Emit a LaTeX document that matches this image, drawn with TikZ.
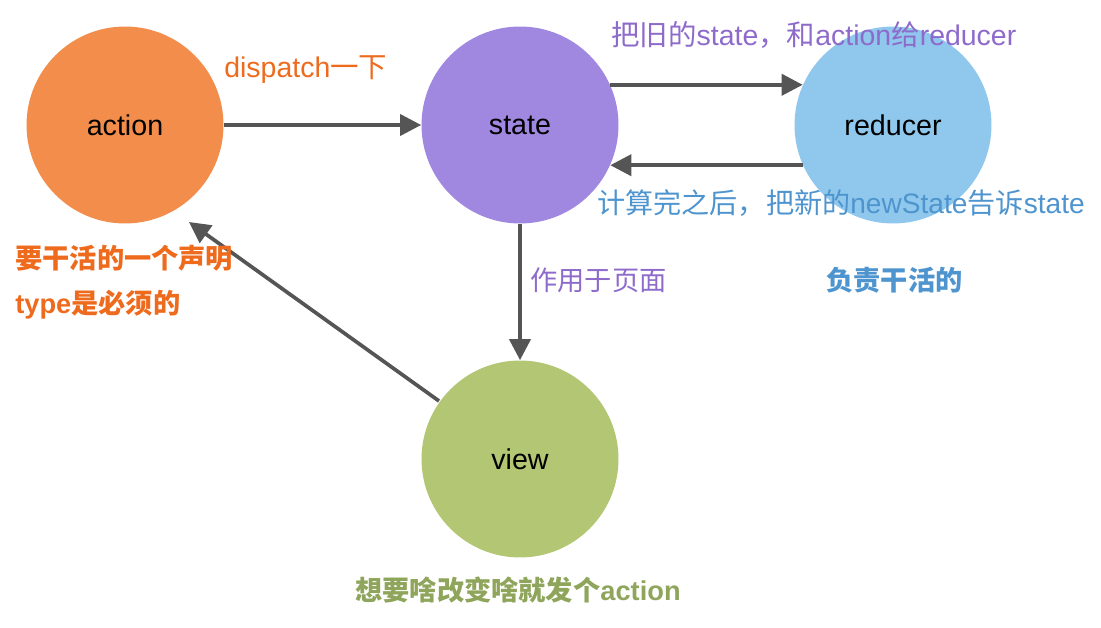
\documentclass[tikz,border=0pt]{standalone}
\usepackage{fontspec}
\setmainfont{Liberation Sans}
\newfontfamily\cjk{Noto Sans CJK SC}
\usetikzlibrary{arrows.meta}
\definecolor{actionfill}{HTML}{F28D4C}
\definecolor{statefill}{HTML}{A087E0}
\definecolor{reducerfill}{HTML}{8FC8EC}
\definecolor{viewfill}{HTML}{B2C674}
\definecolor{orangetext}{HTML}{EE6B1E}
\definecolor{purpletext}{HTML}{8E6BCB}
\definecolor{bluetext}{HTML}{4E94CE}
\definecolor{greentext}{HTML}{8EA55B}
\definecolor{linegray}{HTML}{555555}
\newcommand{\zh}[1]{{\cjk #1}}
\tikzset{
  ball/.style={circle, minimum size=3.94cm, inner sep=0pt, font=\fontsize{16.3}{19}\selectfont},
  flow/.style={draw=linegray, line width=2.1pt, -{Triangle[length=12pt,width=12pt]}},
  note/.style={anchor=west, inner sep=0pt, font=\fontsize{16.2}{19}\selectfont},
  boldnote/.style={note, font=\fontsize{15.5}{18}\bfseries},
}

\begin{document}
\begin{tikzpicture}[x=0.02cm, y=-0.02cm]
  \useasboundingbox (0,0) rectangle (1101,628);
  % the four circles
  \node [ball, fill=actionfill] (action) at (125,125) {action};
  \node [ball, fill=statefill] (state) at (520,125) {state};
  \node [ball, fill=reducerfill] (reducer) at (893,125) {reducer};
  \node [ball, fill=viewfill] (view) at (520,459) {view};
  % arrows
  \draw [flow] (action) -- (state);
  \draw [flow] (state.24) -- (reducer.156);
  \draw [flow] (reducer.204) -- (state.-24);
  \draw [flow] (state) -- (view);
  \coordinate (viewout) at (439,401);
  \coordinate (actionin) at (189,222);
  \draw [flow] (viewout) -- (actionin);
  % notes
  \node [note, text=orangetext] (dispatchnote) at (224,70) {dispatch\zh{一下}};
  \node [boldnote, text=orangetext] (actionnote) at (15,258) {\zh{要干活的一个声明}};
  \node [boldnote, text=orangetext] (typenote) at (15,305) {type\zh{是必须的}};
  \node [note, text=purpletext] (oldnote) at (611,35) {\zh{把旧的}state\zh{，和}action\zh{给}reducer};
  \node [note, text=bluetext, font=\fontsize{16}{19}\selectfont] (newnote) at (597,203) {\zh{计算完之后，把新的}newState\zh{告诉}state};
  \node [note, text=purpletext, font=\fontsize{15.5}{18}\selectfont] (pagenote) at (530,280) {\zh{作用于页面}};
  \node [boldnote, text=bluetext] (worknote) at (826,280) {\zh{负责干活的}};
  \node [boldnote, text=greentext] (viewnote) at (355,590) {\zh{想要啥改变啥就发个}action};
\end{tikzpicture}
\end{document}
